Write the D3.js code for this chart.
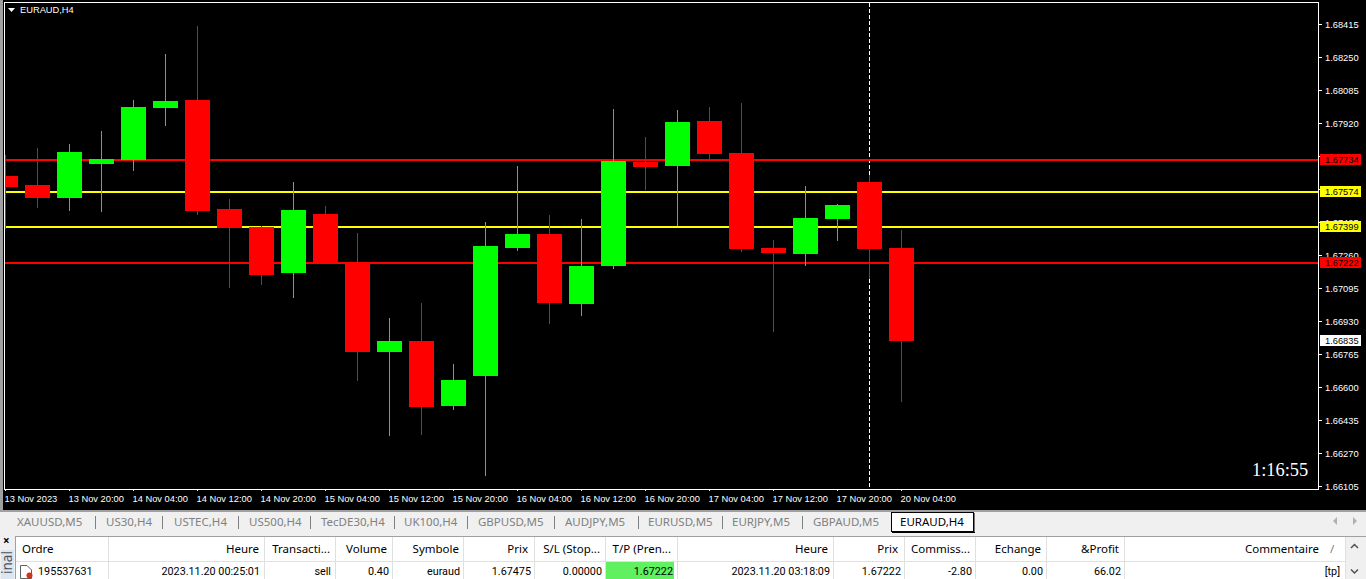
<!DOCTYPE html>
<html>
<head>
<meta charset="utf-8">
<title>EURAUD,H4</title>
<script src="https://cdn.jsdelivr.net/npm/d3@7"></script>
<style>
  html, body { margin: 0; padding: 0; background: #000; overflow: hidden; }
  svg { display: block; }
  .mt { font-family: "Liberation Sans", sans-serif; font-size: 9.3px; }
  .ui { font-family: "Noto Sans", sans-serif; font-size: 11.5px; }
  .cell { font-family: Roboto, sans-serif; font-size: 10.8px; }
</style>
</head>
<body>
<div id="chart"></div>
<script>
// Candles
const opens  = [1.67657, 1.67612, 1.67547, 1.67717, 1.67737, 1.67997, 1.68037, 1.67492, 1.67402, 1.67172, 1.67467, 1.67227, 1.66777, 1.66832, 1.66507, 1.66657, 1.67297, 1.67367, 1.67017, 1.67207, 1.67727, 1.67707, 1.67932, 1.67772, 1.67297, 1.67267, 1.67442, 1.67627, 1.67297];
const highs  = [1.67762, 1.67797, 1.67817, 1.67882, 1.68037, 1.68267, 1.68407, 1.67542, 1.67407, 1.67627, 1.67507, 1.67372, 1.66947, 1.67022, 1.66717, 1.67427, 1.67707, 1.67462, 1.67442, 1.67992, 1.67852, 1.67987, 1.68002, 1.68022, 1.67337, 1.67607, 1.67517, 1.67662, 1.67387];
const lows   = [1.67392, 1.67497, 1.67482, 1.67477, 1.67682, 1.67907, 1.67462, 1.67097, 1.67112, 1.67047, 1.67217, 1.66632, 1.66357, 1.66362, 1.66487, 1.66157, 1.67282, 1.66917, 1.66957, 1.67192, 1.67587, 1.67407, 1.67742, 1.67277, 1.66877, 1.67207, 1.67332, 1.67142, 1.66527];
const closes = [1.67602, 1.67547, 1.67777, 1.67742, 1.68002, 1.68032, 1.67482, 1.67397, 1.67162, 1.67487, 1.67217, 1.66777, 1.66832, 1.66502, 1.66637, 1.67307, 1.67367, 1.67022, 1.67207, 1.67732, 1.67702, 1.67927, 1.67767, 1.67292, 1.67272, 1.67447, 1.67512, 1.67292, 1.66832];

const priceTicks = [1.68415, 1.6825, 1.68085, 1.6792, 1.67755, 1.6759, 1.67425, 1.6726, 1.67095, 1.6693, 1.66765, 1.666, 1.66435, 1.6627, 1.66105];
const timeTickIndex = [0, 2, 4, 6, 8, 10, 12, 14, 16, 18, 20, 22, 24, 26, 28];
const timeLabels = ["13 Nov 2023", "13 Nov 20:00", "14 Nov 04:00", "14 Nov 12:00", "14 Nov 20:00", "15 Nov 04:00", "15 Nov 12:00", "15 Nov 20:00", "16 Nov 04:00", "16 Nov 12:00", "16 Nov 20:00", "17 Nov 04:00", "17 Nov 12:00", "17 Nov 20:00", "20 Nov 04:00"];

const redLevels = [1.67734, 1.67222];
const yellowLevels = [1.67574, 1.67399];
const currentPrice = 1.66835;
const separatorIndex = 27;

const tabNames = ["XAUUSD,M5", "US30,H4", "USTEC,H4", "US500,H4", "TecDE30,H4", "UK100,H4", "GBPUSD,M5", "AUDJPY,M5", "EURUSD,M5", "EURJPY,M5", "GBPAUD,M5"];
const headerCells = ["Heure", "Transacti...", "Volume", "Symbole", "Prix", "S/L (Stop...", "T/P (Pren...", "Heure", "Prix", "Commiss...", "Echange", "&Profit", "Commentaire"];
const rowCells = ["2023.11.20 00:25:01", "sell", "0.40", "euraud", "1.67475", "0.00000", "1.67222", "2023.11.20 03:18:09", "1.67222", "-2.80", "0.00", "66.02", "[tp]"];

// Window layout, pixels
const width = 1366, height = 579;
const frame = { left: 4, top: 2, right: 1318, bottom: 489 };
const tabX = [17, 106, 174, 249, 321, 404, 478, 565, 648, 732, 813];
const tabSeps = [95, 162, 238, 310, 394, 467, 554, 638, 722, 802];
const colSeps = [108, 264, 335, 392, 463, 534, 605, 677, 833, 904, 975, 1046, 1124, 1345];
const headerEnds = [259, 330, 387, 459, 528, 600, 671, 828, 898, 970, 1041, 1119, 1319];
const rowEnds = [260, 331, 389, 460, 531, 602, 673, 830, 901, 972, 1043, 1121, 1340];

const candles = opens.map((o, i) => ({ i, o, h: highs[i], l: lows[i], c: closes[i] }));

const svg = d3.select("#chart")
  .append("svg")
  .attr("width", width)
  .attr("height", height)
  .attr("viewBox", [0, 0, width, height]);

// Scales
const x = d3.scaleLinear().domain([0, 28]).range([5, 901]);
const y = d3.scaleLinear().domain([1.66105, 1.68415]).range([486.4, 24.4]);
const py = p => Math.round(y(p));
const levelY = p => Math.floor(y(p) + 0.01);

svg.append("rect").attr("width", width).attr("height", height).attr("fill", "#000");
svg.append("rect").attr("x", 0).attr("y", 0).attr("width", 3).attr("height", 511).attr("fill", "#a0a0a0");

svg.append("defs").append("clipPath").attr("id", "plot")
  .append("rect")
  .attr("x", frame.left + 1)
  .attr("y", frame.top + 1)
  .attr("width", frame.right - frame.left - 1)
  .attr("height", frame.bottom - frame.top - 1);

const plot = svg.append("g").attr("clip-path", "url(#plot)").attr("shape-rendering", "crispEdges");

// Period separator
plot.append("line")
  .attr("x1", x(separatorIndex) + 0.5).attr("x2", x(separatorIndex) + 0.5)
  .attr("y1", frame.top + 1).attr("y2", frame.bottom)
  .attr("stroke", "#fff")
  .attr("stroke-dasharray", "4,2");

// Horizontal levels
const levels = redLevels.map(p => ({ p, color: "#ff0000" }))
  .concat(yellowLevels.map(p => ({ p, color: "#ffff00" })));

plot.selectAll("rect.level")
  .data(levels)
  .enter()
  .append("rect")
  .attr("class", "level")
  .attr("x", frame.left + 1)
  .attr("width", frame.right - frame.left - 1)
  .attr("y", d => levelY(d.p) - 1)
  .attr("height", 2)
  .attr("fill", d => d.color);

// Wicks
plot.selectAll("rect.wick")
  .data(candles)
  .enter()
  .append("rect")
  .attr("class", "wick")
  .attr("x", d => x(d.i))
  .attr("width", 1)
  .attr("y", d => py(d.h))
  .attr("height", d => py(d.l) - py(d.h))
  .attr("fill", d => d.c >= d.o ? "#20dd20" : "#e01010");

// Bodies
plot.selectAll("rect.body")
  .data(candles)
  .enter()
  .append("rect")
  .attr("class", "body")
  .attr("x", d => x(d.i) - 12)
  .attr("width", 25)
  .attr("y", d => py(Math.max(d.o, d.c)))
  .attr("height", d => py(Math.min(d.o, d.c)) - py(Math.max(d.o, d.c)))
  .attr("fill", d => d.c >= d.o ? "#00ff00" : "#ff0000");

// Frame
svg.append("rect")
  .attr("x", frame.left + 0.5)
  .attr("y", frame.top + 0.5)
  .attr("width", frame.right - frame.left)
  .attr("height", frame.bottom - frame.top)
  .attr("fill", "none")
  .attr("stroke", "#fff");

// Price axis
const yAxis = svg.append("g")
  .attr("class", "mt")
  .attr("transform", `translate(${frame.right + 1},0)`)
  .call(d3.axisRight(y).tickValues(priceTicks).tickSize(3).tickPadding(3).tickFormat(d3.format(".5f")));
yAxis.select(".domain").remove();
yAxis.selectAll("line").attr("stroke", "#fff").attr("shape-rendering", "crispEdges");
yAxis.selectAll("text").attr("fill", "#fff");
yAxis.attr("font-family", null).attr("font-size", null);

// Time axis
const xAxis = svg.append("g")
  .attr("class", "mt")
  .attr("transform", `translate(0,${frame.bottom})`)
  .call(d3.axisBottom(x)
    .tickValues(timeTickIndex)
    .tickSize(2)
    .tickPadding(4)
    .tickFormat((d, i) => timeLabels[i]));
xAxis.select(".domain").remove();
xAxis.selectAll("line").attr("stroke", "#fff").attr("shape-rendering", "crispEdges");
xAxis.selectAll("text").attr("fill", "#fff").attr("text-anchor", "start").attr("dx", -1);
xAxis.attr("font-family", null).attr("font-size", null);

// Price tags on the axis
const tags = levels.map(d => ({ p: d.p, color: d.color, mid: levelY(d.p) }))
  .concat([{ p: currentPrice, color: "#fff", mid: Math.ceil(y(currentPrice)) }]);

const tag = svg.selectAll("g.tag")
  .data(tags)
  .enter()
  .append("g")
  .attr("class", "tag mt");

tag.append("rect")
  .attr("x", 1320)
  .attr("width", 41)
  .attr("y", d => d.mid - 6)
  .attr("height", 11)
  .attr("fill", d => d.color);

tag.append("text")
  .attr("x", 1325)
  .attr("y", d => d.mid + 3)
  .attr("fill", "#000")
  .text(d => d3.format(".5f")(d.p));

// Symbol label and countdown
svg.append("path").attr("d", "M8,8H15L11.5,12Z").attr("fill", "#fff");
svg.append("text").attr("class", "mt").attr("x", 20).attr("y", 13).attr("fill", "#fff").text("EURAUD,H4");
svg.append("text")
  .attr("x", 1252).attr("y", 476)
  .attr("font-family", "'Liberation Serif', serif")
  .attr("font-size", 18.4)
  .attr("fill", "#fff")
  .text("1:16:55");

// Tab bar
svg.append("rect").attr("x", 0).attr("y", 510).attr("width", width).attr("height", 2).attr("fill", "#a0a0a0");
svg.append("rect").attr("x", 0).attr("y", 512).attr("width", width).attr("height", 67).attr("fill", "#f0f0f0");

svg.selectAll("text.tab")
  .data(tabNames)
  .enter()
  .append("text")
  .attr("class", "tab ui")
  .attr("x", (d, i) => tabX[i])
  .attr("y", 526)
  .attr("fill", "#808080")
  .text(d => d);

svg.selectAll("rect.tabsep")
  .data(tabSeps)
  .enter()
  .append("rect")
  .attr("class", "tabsep")
  .attr("x", d => d)
  .attr("y", 516)
  .attr("width", 1)
  .attr("height", 13)
  .attr("fill", "#808080");

svg.append("rect").attr("x", 891.5).attr("y", 512.5).attr("width", 82).attr("height", 19).attr("fill", "#fff").attr("stroke", "#000");
svg.append("path").attr("d", "M974,513V533M892,532.5H975").attr("stroke", "#000").attr("fill", "none");
svg.append("text").attr("class", "ui").attr("x", 900).attr("y", 526).attr("fill", "#000").text("EURAUD,H4");
svg.append("path").attr("d", "M1337,517V525L1333,521Z").attr("fill", "#b0b0b0");
svg.append("path").attr("d", "M1353,517V525L1357,521Z").attr("fill", "#b0b0b0");

// Terminal table
svg.append("rect").attr("x", 15).attr("y", 536).attr("width", width - 15).attr("height", 43).attr("fill", "#fff");
svg.append("rect").attr("x", 15).attr("y", 536).attr("width", width - 15).attr("height", 1).attr("fill", "#a0a0a0");
svg.append("rect").attr("x", 15).attr("y", 536).attr("width", 1).attr("height", 43).attr("fill", "#a0a0a0");
svg.append("rect").attr("x", 16).attr("y", 561).attr("width", 1329).attr("height", 1).attr("fill", "#e0e0e0");
svg.append("rect").attr("x", 606).attr("y", 562).attr("width", 68).attr("height", 17).attr("fill", "#60f060");
svg.append("rect").attr("x", 1345).attr("y", 537).attr("width", 21).attr("height", 42).attr("fill", "#f0f0f0");

svg.selectAll("rect.colsep")
  .data(colSeps)
  .enter()
  .append("rect")
  .attr("class", "colsep")
  .attr("x", d => d)
  .attr("y", 537)
  .attr("width", 1)
  .attr("height", 42)
  .attr("fill", "#e0e0e0");

svg.append("text").attr("class", "ui").attr("x", 22).attr("y", 553).attr("fill", "#000").text("Ordre");
svg.selectAll("text.head")
  .data(headerCells)
  .enter()
  .append("text")
  .attr("class", "head ui")
  .attr("x", (d, i) => headerEnds[i])
  .attr("y", 553)
  .attr("text-anchor", "end")
  .attr("fill", "#000")
  .text(d => d);
svg.append("text").attr("class", "ui").attr("x", 1330).attr("y", 553).attr("fill", "#808080").text("/");

// Order icon
svg.append("path").attr("d", "M20.5,565.5H27L31.5,570V578.5H20.5Z").attr("fill", "#fff").attr("stroke", "#606060");
svg.append("circle").attr("cx", 29.5).attr("cy", 575.5).attr("r", 3).attr("fill", "#d83010");

svg.append("text").attr("class", "cell").attr("x", 38).attr("y", 575).attr("fill", "#000").text("195537631");
svg.selectAll("text.val")
  .data(rowCells)
  .enter()
  .append("text")
  .attr("class", "val cell")
  .attr("x", (d, i) => rowEnds[i])
  .attr("y", 575)
  .attr("text-anchor", "end")
  .attr("fill", "#000")
  .text(d => d);

// Scroll chevrons
svg.append("path").attr("d", "M1351,548L1354.5,544.5L1358,548").attr("fill", "none").attr("stroke", "#505050").attr("stroke-width", 1.5);
svg.append("path").attr("d", "M1351,569.5L1354.5,573L1358,569.5").attr("fill", "none").attr("stroke", "#505050").attr("stroke-width", 1.5);

// Side tab of the terminal
svg.append("rect").attr("x", 1).attr("y", 550).attr("width", 13).attr("height", 29).attr("fill", "#dbe6f2");
svg.append("text").attr("class", "ui").attr("x", 3).attr("y", 545).attr("font-weight", "bold").attr("fill", "#000").text("×");
svg.append("text")
  .attr("class", "ui")
  .attr("transform", "translate(12,574) rotate(-90)")
  .attr("font-size", 13.5)
  .style("font-size", "13.5px")
  .attr("fill", "#505050")
  .text("inal");
</script>
</body>
</html>
